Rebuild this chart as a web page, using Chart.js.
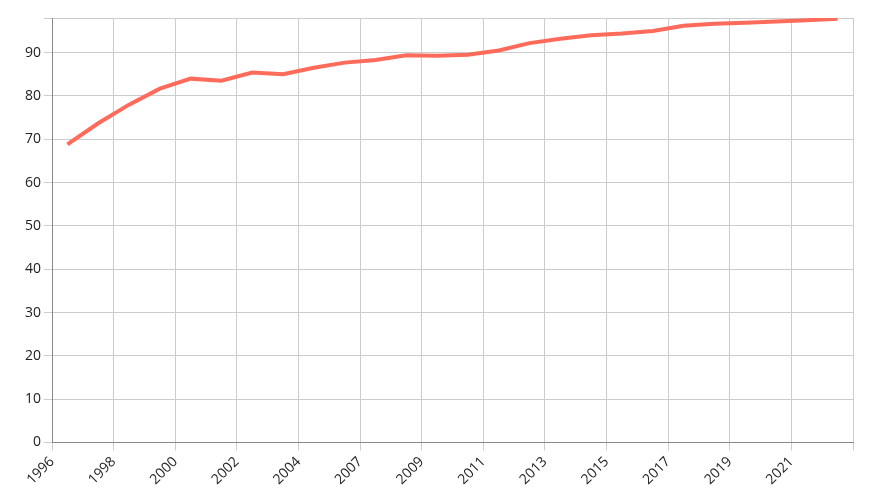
<!DOCTYPE html>
<html><head><meta charset="utf-8">
<script src="https://cdn.jsdelivr.net/npm/chart.js@4"></script>
<style>body{margin:0;background:#fff}#wrap{width:873px;height:500px}</style>
</head><body><div id="wrap"><canvas id="c"></canvas></div>
<script>
const tickLabels=['1996','1998','2000','2002','2004','2007','2009','2011','2013','2015','2017','2019','2021'];
const values=[68.8,73.7,78,81.7,84,83.5,85.4,85,86.5,87.7,88.3,89.4,89.3,89.5,90.5,92.2,93.2,94,94.4,95,96.2,96.7,96.9,97.2,97.5,97.8];
const pts=values.map((v,i)=>({x:i+0.5,y:v}));
Chart.defaults.font.family='"Open Sans", "Noto Sans", sans-serif';
Chart.defaults.font.size=14;
Chart.defaults.color='#222';
new Chart(c,{type:'line',data:{datasets:[{data:pts,borderColor:'#ff6b5b',borderWidth:4,pointRadius:0,tension:0}]},
options:{responsive:true,maintainAspectRatio:false,animation:false,
layout:{padding:{top:18,right:20,left:22,bottom:9}},
plugins:{legend:{display:false},tooltip:{enabled:false}},
scales:{
x:{type:'linear',min:0,max:26,grid:{color:'#ccc'},border:{color:'#888'},
ticks:{stepSize:2,maxRotation:45,minRotation:45,callback:v=>tickLabels[v/2]??''}},
y:{min:0,max:98,grid:{color:'#ccc'},border:{color:'#888'},ticks:{stepSize:10,callback:v=>v%10===0?v:''}}
}}});
</script></body></html>
